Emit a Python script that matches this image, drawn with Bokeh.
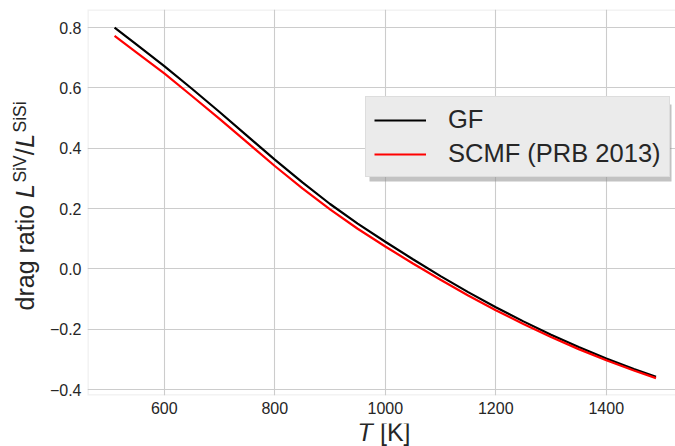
import math
from bokeh.plotting import figure
from bokeh.layouts import row, column
from bokeh.models import (Range1d, FixedTicker, CustomJSTickFormatter, Label,
                          Legend, LegendItem, BoxAnnotation)
from bokeh.embed import file_html
from bokeh.resources import INLINE

# ---------------- data ----------------
temperature = [510, 550, 600, 650, 700, 750, 800, 850, 900, 950, 1000,
               1050, 1100, 1150, 1200, 1250, 1300, 1350, 1400, 1450, 1490]
gf = [0.800, 0.743, 0.672, 0.597, 0.520, 0.441, 0.362, 0.287, 0.215, 0.150, 0.090,
      0.032, -0.024, -0.077, -0.127, -0.174, -0.218, -0.259, -0.297, -0.332, -0.358]
scmf = [0.772, 0.717, 0.648, 0.573, 0.497, 0.419, 0.341, 0.267, 0.197, 0.133, 0.074,
        0.018, -0.036, -0.088, -0.137, -0.183, -0.226, -0.266, -0.303, -0.337, -0.362]
series_names = ["GF", "SCMF (PRB 2013)"]
x_ticks = [600, 800, 1000, 1200, 1400]
y_ticks = [-0.4, -0.2, 0.0, 0.2, 0.4, 0.6, 0.8]

# ---------------- layout ----------------
W, H = 675, 446
LW = 45            # strip holding the y-axis label
BH = 23            # strip holding the x-axis label
MW, MH = W - LW, H - BH
LB, RB, TB, BB = 87 - LW, 0, 9, 28
X0, X1 = 461.0, 1525.3
Y0, Y1 = -0.4197, 0.8597
FONT = "Liberation Sans"
TXT = "#262626"
MAIN, SUP = 25, 17.5


def blank(w, h, top=0, bot=0):
    # data coordinates of the strip equal page pixels (y grows downwards)
    f = figure(width=w, height=h, output_backend="svg", toolbar_location=None,
               x_range=Range1d(0, w), y_range=Range1d(h - bot, top),
               x_axis_location=None, y_axis_location=None,
               min_border_left=0, min_border_right=0,
               min_border_top=top, min_border_bottom=bot)
    f.grid.visible = False
    f.outline_line_color = None
    f.background_fill_color = "white"
    f.border_fill_color = "white"
    return f


def add_label(f, text, x, y, size, style="normal", angle=0.0):
    f.add_layout(Label(x=x, y=y, text=text, angle=angle,
                       text_font=FONT, text_font_size=f"{size}px",
                       text_font_style=style, text_color=TXT,
                       text_align="center", text_baseline="middle"))


# ---------- main plot ----------
p = figure(width=MW, height=MH, output_backend="svg", toolbar_location=None,
           x_range=Range1d(X0, X1), y_range=Range1d(Y0, Y1),
           min_border_left=LB, min_border_right=RB,
           min_border_top=TB, min_border_bottom=BB)
p.background_fill_color = "white"
p.border_fill_color = "white"
p.outline_line_color = None

for g in (p.xgrid, p.ygrid):
    g.grid_line_color = "#cccccc"
    g.grid_line_width = 1.1

p.xaxis.ticker = FixedTicker(ticks=x_ticks)
p.yaxis.ticker = FixedTicker(ticks=y_ticks)
p.yaxis.formatter = CustomJSTickFormatter(
    code="return (tick < -1e-9 ? '\\u2212' : '') + Math.abs(tick).toFixed(1);")
for ax in (p.xaxis, p.yaxis):
    ax.axis_line_color = None
    ax.major_tick_line_color = None
    ax.minor_tick_line_color = None
    ax.major_tick_out = 0
    ax.major_tick_in = 0
    ax.major_label_text_font = FONT
    ax.major_label_text_font_size = "16px"
    ax.major_label_text_color = TXT
p.yaxis.major_label_standoff = 6
p.xaxis.major_label_standoff = 6

# frame border (left, top, bottom; the right edge runs off the canvas as in the reference)
p.add_layout(BoxAnnotation(left=X0, right=X1 + 200, bottom=Y0, top=Y1,
                           fill_alpha=0, line_color="#cccccc", line_width=2.6))

r1 = p.line(temperature, gf, line_color="black", line_width=2.2)
r2 = p.line(temperature, scmf, line_color="red", line_width=2.2)


def dx(px):
    return X0 + (px - 87) * (X1 - X0) / (W - 87)


def dy(py):
    return Y1 - (py - TB) * (Y1 - Y0) / (MH - TB - BB)


# legend with drop shadow
p.add_layout(BoxAnnotation(left=dx(369), right=dx(671), top=dy(104), bottom=dy(181),
                           fill_color="#8f8f8f", fill_alpha=0.55, line_color=None))
legend = Legend(items=[LegendItem(label=series_names[0], renderers=[r1]),
                       LegendItem(label=series_names[1], renderers=[r2])],
                location=(278, 218), padding=8, spacing=5, margin=0,
                label_height=28, glyph_height=28, glyph_width=52, label_standoff=22,
                label_text_font=FONT, label_text_font_size="25.5px", label_text_color=TXT,
                background_fill_color="#ebebeb", background_fill_alpha=1.0,
                border_line_color="#d0d0d0", border_line_width=1)
p.add_layout(legend)

# ---------- y-axis label strip (rotated, pieces laid out bottom -> top) ----------
left = blank(LW, MH, TB, BB)
a = math.pi / 2
mid_main = 33 - 0.35 * MAIN      # baseline at x = 33
mid_sup = 25.5 - 0.35 * SUP      # superscript baseline at x = 25.5
pieces = [("drag ratio", MAIN, "normal", 4.224 * MAIN, 0.278 * MAIN),
          ("L", MAIN, "italic", 0.556 * MAIN, 1.5),
          ("SiV", SUP, "normal", 1.556 * SUP, 0.0),
          ("/", MAIN, "normal", 0.278 * MAIN, 0.5),
          ("L", MAIN, "italic", 0.556 * MAIN, 1.5),
          ("SiSi", SUP, "normal", 1.778 * SUP, 0.0)]
yy = 310.0
for text, size, style, length, gap in pieces:
    xm = mid_main if size == MAIN else mid_sup
    add_label(left, text, xm, yy - length / 2, size, style, a)
    yy -= length + gap

# ---------- x-axis label strip ----------
bottom = blank(W, BH)
add_label(bottom, "T", 357 + 0.611 * MAIN / 2, 8.5, MAIN, "italic")
add_label(bottom, "[K]", 410 - 1.223 * MAIN / 2, 8.5, MAIN)

layout = column(row(left, p), bottom)
open("out.html", "w").write(file_html(layout, INLINE))
